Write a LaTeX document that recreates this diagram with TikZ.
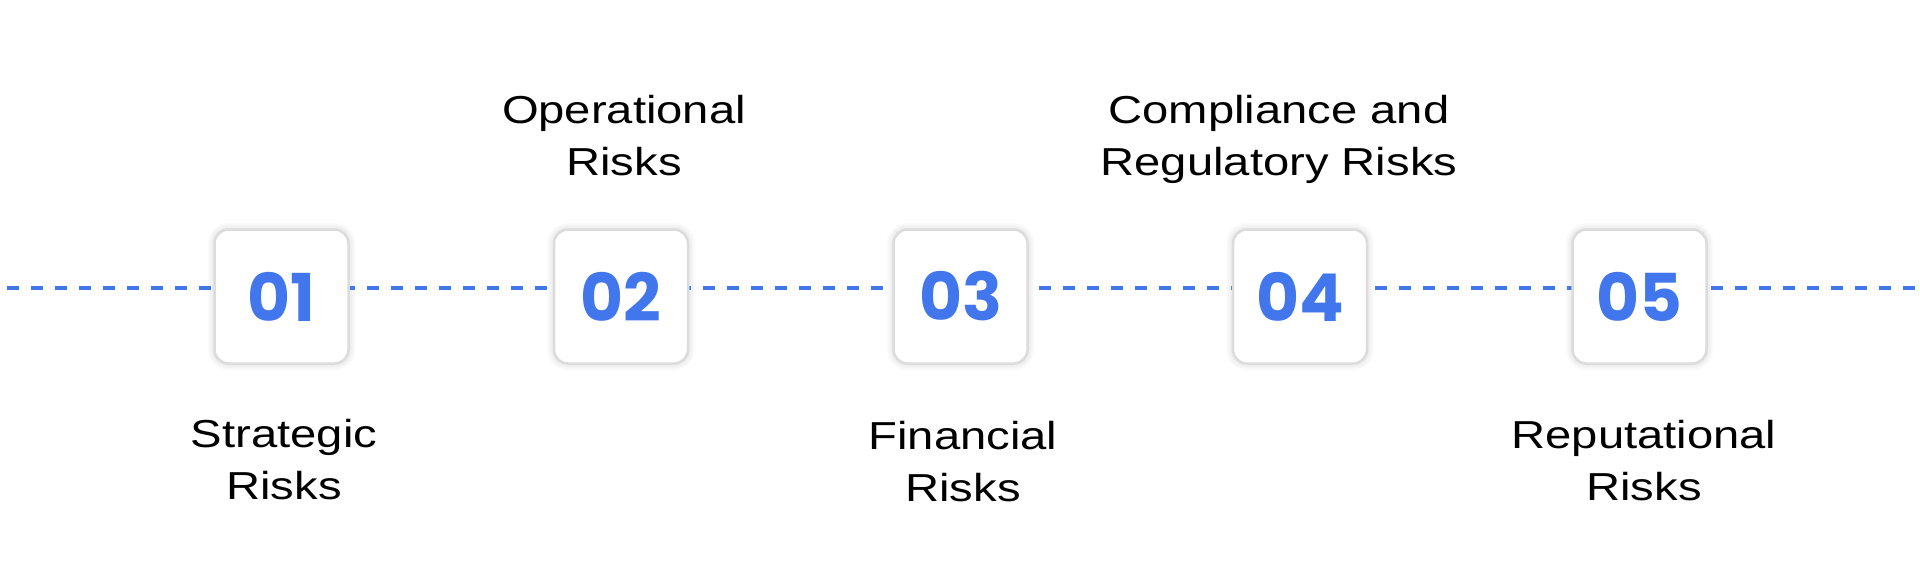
\documentclass[tikz,border=0pt]{standalone}
\usepackage{fontspec}
\setmainfont[FakeStretch=1.21]{Liberation Sans}
\newfontfamily\numfont{Poppins}
\usetikzlibrary{calc}
\definecolor{accent}{HTML}{4176EC}
\definecolor{boxline}{HTML}{DCDCDC}
\tikzset{
  numbox/.style={minimum width=134pt, minimum height=134pt, rounded corners=14pt,
    draw=boxline, line width=2.5pt, fill=white, inner sep=0pt, text=accent,
    font=\numfont\bfseries\fontsize{66}{66}\selectfont},
  risklabel/.style={align=center, anchor=base, inner sep=0pt, text=black,
    font=\fontsize{39}{52}\selectfont},
  timeline/.style={accent, line width=3.5pt, dash pattern=on 12pt off 12pt, dash phase=17pt}
}
\begin{document}
\begin{tikzpicture}[x=1pt,y=-1pt]
\path[use as bounding box, fill=white] (0,0) rectangle (1920,582);
\foreach \i/\x in {1/281.5,2/621,3/960.5,4/1300,5/1639.5}
  \coordinate (c\i) at (\x,296.5);
% soft shadows
\foreach \i in {1,...,5}{
  \foreach \e in {1,...,7}{
    \fill[black, opacity=0.012, rounded corners=14pt+\e pt]
      ($(c\i)+(-67-\e,-67-\e)$) rectangle ($(c\i)+(67+\e,67+\e)$);
  }
}
\coordinate (L) at (0,288);
\coordinate (R) at (1920,288);
\draw[timeline] (L) -- (R);
\node[numbox] (b1) at (c1) {01};
\node[numbox] (b2) at (c2) {02};
\node[numbox] (b3) at (c3) {03};
\node[numbox] (b4) at (c4) {04};
\node[numbox] (b5) at (c5) {05};
% anchor=base sits on the last line's baseline
\node[risklabel] (l1) at (284,499) {Strategic\\Risks};
\node[risklabel] (l2) at (624,175) {Operational\\Risks};
\node[risklabel] (l3) at (963,501) {Financial\\Risks};
\node[risklabel] (l4) at (1279,175) {Compliance and\\Regulatory Risks};
\node[risklabel] (l5) at (1644,500) {Reputational\\Risks};
\end{tikzpicture}
\end{document}
